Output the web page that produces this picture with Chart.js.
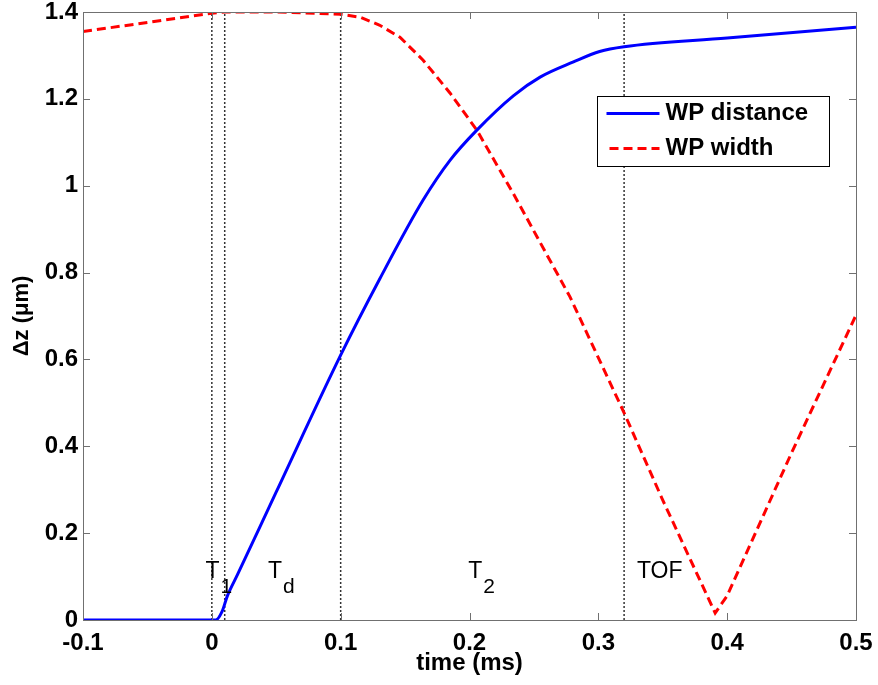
<!DOCTYPE html>
<html><head><meta charset="utf-8">
<script src="https://cdn.jsdelivr.net/npm/chart.js@4/dist/chart.umd.min.js"></script>
<style>html,body{margin:0;padding:0;background:#fff}</style>
</head><body>
<canvas id="c" width="878" height="685"></canvas>
<script>
// ---- data ----
const timeDistance = [-0.1, 0.003, 0.008, 0.012, 0.02, 0.05, 0.1, 0.1306, 0.164, 0.185, 0.2057, 0.234, 0.2548, 0.2807, 0.301, 0.32, 0.4, 0.5];
const wpDistance   = [0, 0, 0.02, 0.055, 0.105, 0.295, 0.61, 0.787, 0.967, 1.059, 1.128, 1.207, 1.25, 1.285, 1.309, 1.32, 1.34, 1.365];
const timeWidth = [-0.1, 0.0, 0.01, 0.05, 0.1, 0.115, 0.13, 0.146, 0.164, 0.185, 0.2057, 0.234, 0.278, 0.32, 0.35, 0.3907, 0.4, 0.45, 0.5];
const wpWidth   = [1.355, 1.397, 1.4, 1.4, 1.395, 1.388, 1.37, 1.342, 1.289, 1.213, 1.128, 0.982, 0.744, 0.477, 0.276, 0.016, 0.056, 0.385, 0.702];
const markerTimes = [0, 0.01, 0.1, 0.32];
const xTicks = [-0.1, 0, 0.1, 0.2, 0.3, 0.4, 0.5];
const xTickLabels = ['-0.1', '0', '0.1', '0.2', '0.3', '0.4', '0.5'];
const yTicks = [0, 0.2, 0.4, 0.6, 0.8, 1, 1.2, 1.4];
const yTickLabels = ['0', '0.2', '0.4', '0.6', '0.8', '1', '1.2', '1.4'];
const seriesNames = ['WP distance', 'WP width'];
const phaseMain = ['T', 'T', 'T', 'TOF'];
const phaseSub  = ['1', 'd', '2', ''];
const phaseX    = [-0.005, 0.0435, 0.199, 0.33];
const phaseY    = 0.097;
const phaseSubY = 0.062;

const FONT = '"Liberation Sans", Arial, sans-serif';

const toPts = (xs, ys) => xs.map((x, i) => ({x: x, y: ys[i]}));

const datasets = [
  {label: seriesNames[0], data: toPts(timeDistance, wpDistance), borderColor: '#0000ff', borderWidth: 3,
   pointRadius: 0, showLine: true, fill: false, cubicInterpolationMode: 'monotone', order: 0},
  {label: seriesNames[1], data: toPts(timeWidth, wpWidth), borderColor: '#ff0000', borderWidth: 3,
   borderDash: [9, 5], pointRadius: 0, showLine: true, fill: false, tension: 0, order: 0}
];
markerTimes.forEach(t => datasets.push({
  label: 'marker', data: [{x: t, y: yTicks[0]}, {x: t, y: yTicks[yTicks.length - 1]}],
  borderColor: '#333', borderWidth: 1.5, borderDash: [2, 2], pointRadius: 0, showLine: true, fill: false, order: 1
}));

const zeroPad = s => { s.paddingLeft = 0; s.paddingRight = 0; s.paddingTop = 0; s.paddingBottom = 0; };

const decor = {
  id: 'decor',
  afterDatasetsDraw(chart) {
    const {ctx, chartArea: ca, scales: {x, y}} = chart;
    ctx.save();
    // phase labels
    ctx.fillStyle = '#000';
    ctx.textBaseline = 'alphabetic';
    ctx.textAlign = 'left';
    phaseMain.forEach((m, i) => {
      ctx.font = '23px ' + FONT;
      const px = x.getPixelForValue(phaseX[i]);
      ctx.fillText(m, px, y.getPixelForValue(phaseY));
      if (phaseSub[i]) {
        const w = ctx.measureText(m).width;
        ctx.font = '21px ' + FONT;
        ctx.fillText(phaseSub[i], px + w + 1, y.getPixelForValue(phaseSubY));
      }
    });
    // axes box
    ctx.strokeStyle = '#707070';
    ctx.lineWidth = 1;
    ctx.strokeRect(Math.round(ca.left) + 0.5, Math.round(ca.top) + 0.5,
                   Math.round(ca.right - ca.left), Math.round(ca.bottom - ca.top));
    // inward ticks on all four sides
    const tl = 7;
    ctx.beginPath();
    xTicks.forEach(v => {
      const px = Math.round(x.getPixelForValue(v)) + 0.5;
      ctx.moveTo(px, ca.bottom); ctx.lineTo(px, ca.bottom - tl);
      ctx.moveTo(px, ca.top); ctx.lineTo(px, ca.top + tl);
    });
    yTicks.forEach(v => {
      const py = Math.round(y.getPixelForValue(v)) + 0.5;
      ctx.moveTo(ca.left, py); ctx.lineTo(ca.left + tl, py);
      ctx.moveTo(ca.right, py); ctx.lineTo(ca.right - tl, py);
    });
    ctx.stroke();
    // legend
    const bx = Math.round(ca.right - 259) + 0.5, by = Math.round(ca.top + 84) + 0.5, bw = 232, bh = 70;
    ctx.fillStyle = '#fff';
    ctx.fillRect(bx, by, bw, bh);
    ctx.strokeStyle = '#000';
    ctx.lineWidth = 1;
    ctx.strokeRect(bx, by, bw, bh);
    const rows = [{c: '#0000ff', dash: [], y: 17, x0: 9}, {c: '#ff0000', dash: [9, 5], y: 52, x0: 12}];
    rows.forEach((r, i) => {
      ctx.beginPath();
      ctx.strokeStyle = r.c; ctx.lineWidth = 3; ctx.setLineDash(r.dash);
      ctx.moveTo(bx + r.x0, by + r.y); ctx.lineTo(bx + 62, by + r.y);
      ctx.stroke();
      ctx.setLineDash([]);
      ctx.fillStyle = '#000';
      ctx.font = 'bold 24px ' + FONT;
      ctx.textBaseline = 'middle';
      ctx.fillText(seriesNames[i], bx + 68, by + r.y);
    });
    ctx.restore();
  }
};

new Chart(document.getElementById('c'), {
  type: 'scatter',
  data: {datasets},
  options: {
    responsive: false,
    animation: false,
    events: [],
    layout: {padding: {top: 12, right: 22, left: 0, bottom: 0}},
    plugins: {legend: {display: false}, tooltip: {enabled: false}},
    scales: {
      x: {
        type: 'linear', min: xTicks[0], max: xTicks[xTicks.length - 1],
        afterBuildTicks: s => { s.ticks = xTicks.map(v => ({value: v})); },
        afterFit: s => { s.height = 65; zeroPad(s); },
        grid: {display: false, drawTicks: false},
        border: {display: false},
        ticks: {autoSkip: false, maxRotation: 0, padding: 11, color: '#000',
                font: {family: FONT, size: 24, weight: 'bold', lineHeight: 1},
                callback: (v, i) => xTickLabels[i]},
        title: {display: true, text: 'time (ms)', color: '#000',
                font: {family: FONT, size: 24, weight: 'bold', lineHeight: 1.2}, padding: {top: 0, bottom: 7}}
      },
      y: {
        type: 'linear', min: yTicks[0], max: yTicks[yTicks.length - 1],
        afterBuildTicks: s => { s.ticks = yTicks.map(v => ({value: v})); },
        afterFit: s => { s.width = 83; zeroPad(s); },
        grid: {display: false, drawTicks: false},
        border: {display: false},
        ticks: {autoSkip: false, padding: 5, color: '#000',
                font: {family: FONT, size: 24, weight: 'bold', lineHeight: 1},
                callback: (v, i) => yTickLabels[i]},
        title: {display: true, text: 'Δz (μm)', color: '#000',
                font: {family: FONT, size: 22, weight: 'bold', lineHeight: 1.2}, padding: {top: 9, bottom: 0}}
      }
    }
  },
  plugins: [decor]
});
</script>
</body></html>
